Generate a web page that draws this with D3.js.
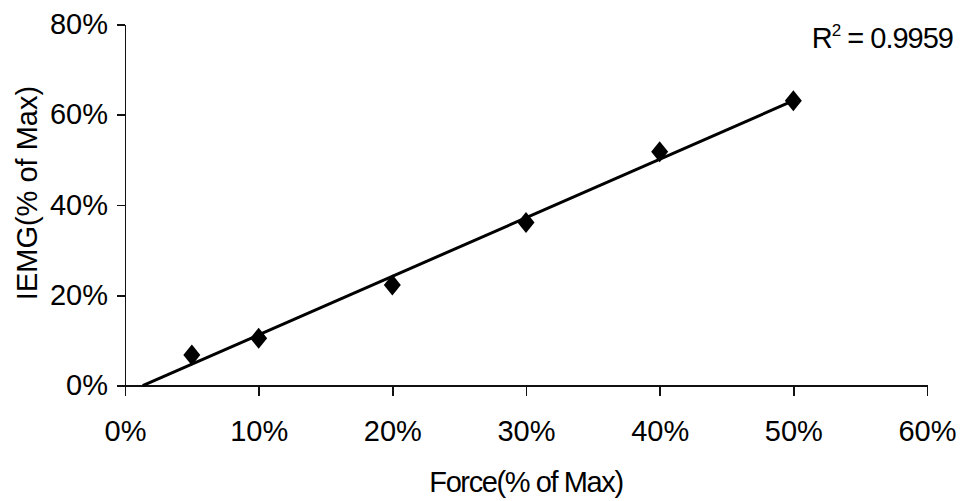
<!DOCTYPE html>
<html>
<head>
<meta charset="utf-8">
<script src="https://cdn.jsdelivr.net/npm/d3@7"></script>
<style>
  html, body { margin: 0; padding: 0; background: #fff; }
  svg { display: block; font-family: "Liberation Sans", Arial, Helvetica, sans-serif; }
  .axis path, .axis line { stroke: #111; stroke-width: 1.5; shape-rendering: crispEdges; }
  .axis text { font-size: 29px; fill: #000; font-family: "Liberation Sans", Arial, sans-serif; }
</style>
</head>
<body>
<svg id="chart" width="962" height="501"></svg>
<script>
// Force level (% of max) and integrated EMG (% of max) at each level
const forcePct = [5, 10, 20, 30, 40, 50];
const iemgPct  = [6.8, 10.5, 22.3, 36.1, 51.8, 63.1];

const xTicks = [0, 10, 20, 30, 40, 50, 60];
const yTicks = [0, 20, 40, 60, 80];

const xTitle = "Force(% of Max)";
const yTitle = "IEMG(% of Max)";
const r2Text = "0.9959";

const W = 962, H = 501;
const plot = { left: 125, right: 927, top: 24.3, bottom: 385.7 };

const svg = d3.select("#chart");

const x = d3.scaleLinear().domain([0, 60]).range([plot.left, plot.right]);
const y = d3.scaleLinear().domain([0, 80]).range([plot.bottom, plot.top]);

const pct = d => d + "%";

// X axis
svg.append("g")
  .attr("class", "axis")
  .attr("transform", `translate(0,${plot.bottom})`)
  .call(d3.axisBottom(x).tickValues(xTicks).tickFormat(pct)
        .tickSize(10).tickSizeOuter(0).tickPadding(25));

// Y axis
svg.append("g")
  .attr("class", "axis")
  .attr("transform", `translate(${plot.left},0)`)
  .call(d3.axisLeft(y).tickValues(yTicks).tickFormat(pct)
        .tickSize(8).tickSizeOuter(0).tickPadding(9));

// Linear least-squares trendline
const n = forcePct.length;
const mx = d3.mean(forcePct), my = d3.mean(iemgPct);
let sxy = 0, sxx = 0;
for (let i = 0; i < n; i++) {
  sxy += (forcePct[i] - mx) * (iemgPct[i] - my);
  sxx += (forcePct[i] - mx) ** 2;
}
const slope = sxy / sxx;
const intercept = my - slope * mx;
const xStart = Math.max(0, -intercept / slope);
const xEnd = d3.max(forcePct);

svg.append("path")
  .datum([xStart, xEnd])
  .attr("fill", "none")
  .attr("stroke", "#000")
  .attr("stroke-width", 3)
  .attr("d", d3.line().x(d => x(d)).y(d => y(slope * d + intercept)));

// Diamond markers
const diamond = "M0,-10.5L8.5,0L0,10.5L-8.5,0Z";
svg.append("g").selectAll("path")
  .data(forcePct.map((f, i) => [f, iemgPct[i]]))
  .join("path")
  .attr("d", diamond)
  .attr("transform", d => `translate(${x(d[0])},${y(d[1])})`)
  .attr("fill", "#000");

// Axis titles
svg.append("text")
  .attr("x", (plot.left + plot.right) / 2 + 0)
  .attr("y", 492)
  .attr("text-anchor", "middle")
  .attr("font-size", 29)
  .attr("letter-spacing", "-1.4px")
  .text(xTitle);

svg.append("text")
  .attr("transform", `translate(36.5,193) rotate(-90)`)
  .attr("text-anchor", "middle")
  .attr("font-size", 29)
  .text(yTitle);

// R-squared annotation
const r2 = svg.append("text")
  .attr("x", 953)
  .attr("y", 48)
  .attr("text-anchor", "end")
  .attr("font-size", 29)
  .attr("letter-spacing", "-1px");
r2.append("tspan").text("R");
r2.append("tspan").attr("font-size", 17).attr("dy", -12).text("2");
r2.append("tspan").attr("dy", 12).text(" = " + r2Text);
</script>
</body>
</html>
